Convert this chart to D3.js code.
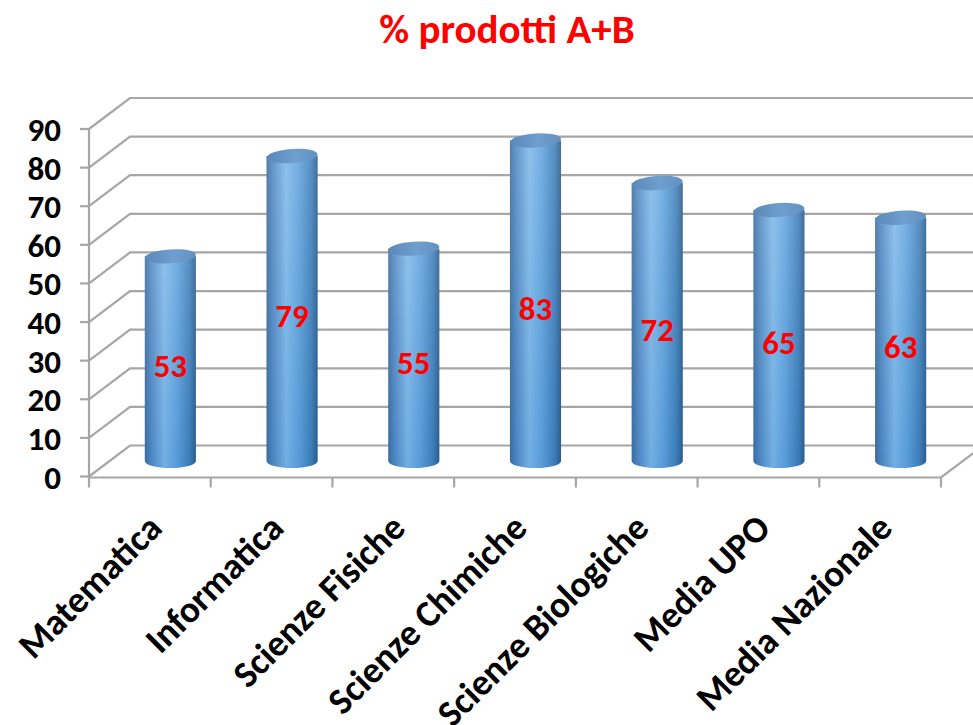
<!DOCTYPE html>
<html>
<head>
<meta charset="utf-8">
<script src="https://cdn.jsdelivr.net/npm/d3@7"></script>
<style>
  body { margin: 0; background: #fff; }
  text { font-family: Carlito, Lato, sans-serif; font-weight: bold; }
</style>
</head>
<body>
<svg id="chart" width="973" height="725"></svg>
<script>
const categories = ["Matematica", "Informatica", "Scienze Fisiche", "Scienze Chimiche",
  "Scienze Biologiche", "Media UPO", "Media Nazionale"];
const values = [53, 79, 55, 83, 72, 65, 63];
const yTicks = [0, 10, 20, 30, 40, 50, 60, 70, 80, 90];
const title = "% prodotti A+B";

const width = 973, height = 725;
// 3d wall depth offset
const depthX = 41, depthY = -31;

const svg = d3.select("#chart");

const x = d3.scaleBand().domain(categories).range([89, 941]).padding(0);
const y = d3.scaleLinear().domain([0, 90]).range([476.5, 129]);

// gradients for the cylinders
const defs = svg.append("defs");
const body = defs.append("linearGradient").attr("id", "bodyGrad").attr("x1", "0").attr("x2", "1").attr("y1", "0").attr("y2", "0");
[["0%", "#3d6c9e"], ["12%", "#5289c2"], ["38%", "#7fb9e9"], ["62%", "#62a4de"], ["88%", "#3f7fb8"], ["100%", "#2c5b8a"]]
  .forEach(s => body.append("stop").attr("offset", s[0]).attr("stop-color", s[1]));
const shade = defs.append("linearGradient").attr("id", "shadeGrad").attr("x1", "0").attr("x2", "0").attr("y1", "0").attr("y2", "1");
shade.append("stop").attr("offset", "0%").attr("stop-color", "#ffffff").attr("stop-opacity", 0.12);
shade.append("stop").attr("offset", "100%").attr("stop-color", "#0a5cb0").attr("stop-opacity", 0.12);
const topG = defs.append("linearGradient").attr("id", "topGrad").attr("x1", "0").attr("x2", "1").attr("y1", "0").attr("y2", "0");
[["0%", "#5a88b8"], ["55%", "#6f9fcf"], ["100%", "#6390c0"]]
  .forEach(s => topG.append("stop").attr("offset", s[0]).attr("stop-color", s[1]));

// title
svg.append("text")
  .attr("x", 507).attr("y", 43)
  .attr("text-anchor", "middle")
  .attr("fill", "#ff0000")
  .style("font-size", "41px")
  .text(title);

// walls / gridlines
const grid = svg.append("g").attr("stroke", "#a6a6a6").attr("stroke-width", 2.2).attr("fill", "none");
const x0 = x.range()[0], x1 = x.range()[1];
grid.selectAll(".gl")
  .data(yTicks)
  .join("polyline")
  .attr("class", "gl")
  .attr("points", d => [[x0, y(d)], [x0 + depthX, y(d) + depthY], [x1 + depthX, y(d) + depthY]].join(" "));

// front left edge and tick marks
grid.append("line").attr("x1", x0).attr("x2", x0).attr("y1", y(90)).attr("y2", y(0) + 1);
grid.selectAll(".yt")
  .data(yTicks)
  .join("line")
  .attr("class", "yt")
  .attr("x1", x0 - 9).attr("x2", x0)
  .attr("y1", d => y(d)).attr("y2", d => y(d));

// floor front edge
grid.append("polyline")
  .attr("points", [[x0, y(0) + 1], [x1, y(0) + 1], [x1 + depthX, y(0) + 1 + depthY]].join(" "));
const catEdges = categories.map(c => x(c)).concat([x1]);
grid.selectAll(".xt")
  .data(catEdges)
  .join("line")
  .attr("class", "xt")
  .attr("x1", d => d).attr("x2", d => d)
  .attr("y1", y(0) + 1).attr("y2", y(0) + 11);

// y labels
svg.selectAll(".ylab")
  .data(yTicks)
  .join("text")
  .attr("class", "ylab")
  .attr("x", 61)
  .attr("y", d => y(d) + 1)
  .attr("text-anchor", "end")
  .attr("dominant-baseline", "central")
  .attr("fill", "#000")
  .style("font-size", "33px")
  .text(d => d);

// cylinders, placed at mid depth
const rx = x.bandwidth() * 0.21, ry = 7;
const bars = svg.selectAll(".bar")
  .data(values.map((v, i) => ({ cat: categories[i], v })))
  .join("g")
  .attr("class", "bar");

const cx = d => x(d.cat) + x.bandwidth() / 2 + depthX / 2;
const baseY = y(0) + depthY / 2;
const topY = d => y(d.v) + depthY / 2;
const bodyPath = d => {
  const l = cx(d) - rx, r = cx(d) + rx;
  return `M${l},${topY(d)} L${l},${baseY} A${rx},${ry} 0 0 0 ${r},${baseY} L${r},${topY(d)} Z`;
};

bars.append("path").attr("d", bodyPath).attr("fill", "url(#bodyGrad)");
bars.append("path").attr("d", bodyPath).attr("fill", "url(#shadeGrad)");
bars.append("ellipse")
  .attr("cx", cx).attr("cy", topY)
  .attr("rx", rx).attr("ry", ry)
  .attr("transform", d => `rotate(-4 ${cx(d)} ${topY(d)})`)
  .attr("fill", "url(#topGrad)");

// value labels
bars.append("text")
  .attr("x", cx)
  .attr("y", d => y(d.v / 2) + depthY / 4)
  .attr("text-anchor", "middle")
  .attr("dominant-baseline", "central")
  .attr("fill", "#ff0000")
  .style("font-size", "33px")
  .text(d => d.v);

// category labels
svg.selectAll(".xlab")
  .data(categories)
  .join("text")
  .attr("class", "xlab")
  .attr("transform", d => `translate(${x(d) + x.bandwidth() / 2 + 14},530) rotate(-45)`)
  .attr("text-anchor", "end")
  .attr("fill", "#000")
  .style("font-size", "37px")
  .text(d => d);
</script>
</body>
</html>
